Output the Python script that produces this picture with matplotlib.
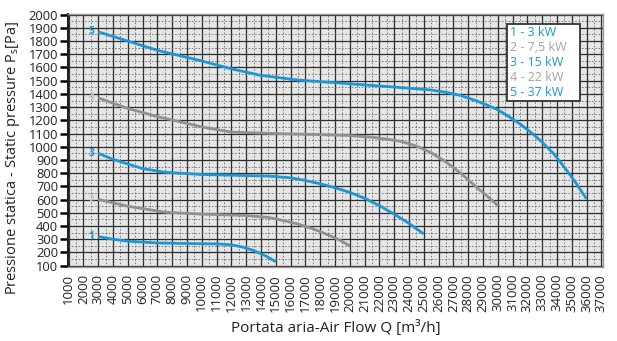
import matplotlib
matplotlib.use("Agg")
import matplotlib.pyplot as plt
import numpy as np

plt.rcParams['font.family'] = ['Open Sans', 'DejaVu Sans']

# Data
q1 = [3000, 4000, 5000, 7000, 9000, 11000, 12000, 12800, 13500, 14300, 15000]
p1 = [320, 300, 285, 272, 268, 265, 258, 240, 215, 175, 130]

q2 = [3000, 5000, 7500, 10000, 13000, 14500, 15500, 16500, 17500, 18500, 19300, 20000]
p2 = [602, 550, 505, 490, 480, 465, 442, 415, 380, 335, 295, 250]

q3 = [3000, 4000, 5000, 6000, 7500, 10000, 12000, 14500, 16000, 17000, 18000, 19000, 20000, 21000, 22000, 23000, 24000, 25000]
p3 = [950, 905, 870, 835, 807, 790, 785, 778, 765, 745, 720, 690, 655, 610, 555, 490, 420, 340]

q4 = [3000, 5000, 7000, 8500, 10000, 12000, 15000, 18000, 20000, 21500, 22500, 23500, 24500, 25500, 26500, 27500, 28500, 29300, 30000]
p4 = [1370, 1290, 1228, 1190, 1150, 1111, 1100, 1092, 1085, 1072, 1058, 1040, 1005, 955, 885, 800, 700, 625, 556]

q5 = [3000, 5000, 7000, 9800, 12000, 14000, 16500, 19000, 21000, 23000, 25500, 26500, 27500, 28500, 29300, 30000, 30800, 31600, 32300, 33000, 33800, 34400, 35200, 36000]
p5 = [1870, 1800, 1730, 1655, 1590, 1540, 1505, 1485, 1468, 1452, 1430, 1412, 1388, 1350, 1315, 1280, 1225, 1165, 1103, 1035, 945, 860, 740, 605]

labels = ["1 - 3 kW", "2 - 7,5 kW", "3 - 15 kW", "4 - 22 kW", "5 - 37 kW"]
x_ticks = list(range(1000, 38000, 1000))
y_ticks = list(range(100, 2100, 100))

blue = '#1b97d5'
gray = '#8c9196'
legend_gray = '#a3a3a3'
tick_font = ['Liberation Sans Narrow', 'Open Sans', 'DejaVu Sans']

fig = plt.figure(figsize=(6.17, 3.41), dpi=100)
ax = fig.add_axes([0.110, 0.217, 0.867, 0.742])
ax.set_facecolor('#e6e6e6')

ax.set_xlim(950, 37100)
ax.set_ylim(90, 2005)

# grid
ax.set_xticks(x_ticks)
ax.set_yticks(y_ticks)
ax.set_xticks(list(range(1500, 37500, 1000)), minor=True)
ax.set_yticks(list(range(150, 2000, 100)), minor=True)
ax.grid(which='major', color='#2e2e2e', linewidth=0.9, linestyle='-')
ax.grid(which='minor', color='#6e6e6e', linewidth=0.6, linestyle=(0, (2, 2)))
ax.set_axisbelow(True)

series = [(q1, p1, blue), (q2, p2, gray), (q3, p3, blue), (q4, p4, gray), (q5, p5, blue)]
for i, (q, p, c) in enumerate(series):
    ax.plot(q, p, color=c, linewidth=2.0, solid_capstyle='butt', solid_joinstyle='round', zorder=3)
    lc = blue if c == blue else '#c8c8c8'
    ax.text(q[0] - 250, p[0], str(i + 1), color=lc, fontsize=7.5, fontweight='bold',
            ha='right', va='center', zorder=4)

ax.set_xticklabels([str(v) for v in x_ticks], rotation=90, fontsize=9.5, color='#222222',
                   family=tick_font)
ax.set_yticklabels([str(v) for v in y_ticks], fontsize=9.3, color='#222222', family=tick_font)
ax.tick_params(axis='x', which='both', length=0, pad=5)
ax.tick_params(axis='y', which='major', length=6, width=1.8, color='black', pad=1)
ax.tick_params(axis='y', which='minor', length=0)

for s in ['top', 'right', 'bottom']:
    ax.spines[s].set_color('#9a9a9a')
    ax.spines[s].set_linewidth(1.0)
ax.spines['left'].set_color('#222222')
ax.spines['left'].set_linewidth(1.5)

ax.set_xlabel('Portata aria-Air Flow Q [m\u00b3/h]', fontsize=11, color='#222222', labelpad=6)
ax.set_ylabel('Pressione statica - Static pressure P$_\\mathregular{s}$[Pa]', fontsize=10.5,
              color='#222222', labelpad=3)
ax.yaxis.set_label_coords(-0.085, 0.43)

# legend box
colors = [blue, legend_gray, blue, legend_gray, blue]
x0, y0 = 30850, 1868
ax.add_patch(plt.Rectangle((30650, 1350), 4900, 580, facecolor='white',
                           edgecolor='#333333', linewidth=1.3, zorder=5))
for i, (lab, c) in enumerate(zip(labels, colors)):
    ax.text(x0, y0 - i * 115, lab, color=c, fontsize=9, va='center', ha='left', zorder=6)

fig.savefig('out.png', dpi=100)
